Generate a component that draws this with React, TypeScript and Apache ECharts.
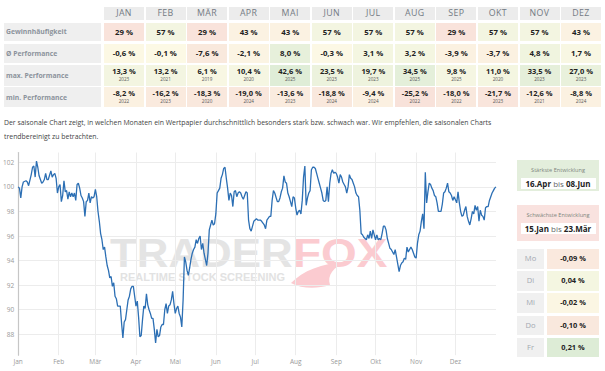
import React, { useEffect, useRef } from "react";
import * as echarts from "echarts";

const months = ["JAN", "FEB", "MÄR", "APR", "MAI", "JUN", "JUL", "AUG", "SEP", "OKT", "NOV", "DEZ"];
const winRate = [29, 57, 29, 43, 43, 57, 57, 57, 29, 57, 57, 43];
const avgPerf = [-0.6, -0.1, -7.6, -2.1, 8.0, -0.3, 3.1, 3.2, -3.9, -3.7, 4.8, 1.7];
const maxPerf = [13.3, 13.2, 6.1, 10.4, 42.6, 23.5, 19.7, 34.5, 9.8, 11.0, 33.5, 27.0];
const maxYear = [2023, 2021, 2019, 2020, 2025, 2023, 2023, 2025, 2025, 2020, 2023, 2023];
const minPerf = [-8.2, -16.2, -18.3, -19.0, -13.6, -18.8, -9.4, -25.2, -18.0, -21.7, -12.6, -8.8];
const minYear = [2022, 2023, 2020, 2024, 2023, 2024, 2024, 2022, 2022, 2023, 2021, 2024];
const rowLabels = ["Gewinnhäufigkeit", "Ø Performance", "max. Performance", "min. Performance"];
const weekdays = ["Mo", "Di", "Mi", "Do", "Fr"];
const weekdayPerf = [-0.09, 0.04, -0.02, -0.1, 0.21];
const strongest = { title: "Stärkste Entwicklung", from: "16.Apr", to: "08.Jun" };
const weakest = { title: "Schwächste Entwicklung", from: "15.Jan", to: "23.Mär" };
const description =
  "Der saisonale Chart zeigt, in welchen Monaten ein Wertpapier durchschnittlich besonders stark bzw. schwach war. Wir empfehlen, die saisonalen Charts trendbereinigt zu betrachten.";

const axisMonths = ["Jan", "Feb", "Mär", "Apr", "Mai", "Jun", "Jul", "Aug", "Sep", "Okt", "Nov", "Dez"];
const monthStartDays = [0, 31, 59, 90, 120, 151, 181, 212, 243, 273, 304, 334];
const yTicks = [88, 90, 92, 94, 96, 98, 100, 102];

// [day of year, seasonal index]
const seasonal: [number, number][] = [
  [0, 100.0], [1, 99.9], [2, 99.1], [3, 100.0], [4, 100.4], [6, 100.5], [7, 100.4], [8, 100.1], [10, 101.0], [11, 101.6],
  [12, 101.7], [13, 100.8], [14, 102.1], [15, 101.6], [16, 100.9], [18, 100.3], [19, 100.4], [20, 100.6], [21, 101.1], [22, 100.6],
  [23, 100.6], [25, 101.3], [26, 100.8], [27, 101.0], [28, 101.1], [29, 100.7], [30, 99.5], [31, 100.0], [32, 100.2], [33, 98.8],
  [34, 99.3], [35, 100.5], [36, 99.6], [37, 99.7], [38, 99.0], [39, 99.6], [40, 99.2], [41, 99.5], [42, 99.2], [43, 99.5],
  [44, 98.9], [45, 100.2], [46, 100.3], [47, 99.9], [48, 99.3], [49, 99.1], [50, 98.8], [51, 97.6], [52, 98.8], [53, 98.9],
  [54, 99.5], [55, 98.7], [56, 99.2], [57, 99.1], [58, 99.2], [59, 99.8], [60, 99.2], [61, 98.0], [62, 97.2], [63, 96.2],
  [64, 95.7], [65, 94.9], [66, 95.1], [67, 94.3], [68, 93.6], [69, 93.2], [70, 92.6], [71, 92.7], [72, 91.9], [73, 92.2],
  [74, 91.1], [75, 90.9], [76, 90.3], [77, 90.3], [78, 90.3], [79, 88.9], [80, 87.7], [81, 89.0], [82, 89.2], [83, 90.0],
  [84, 90.8], [85, 91.1], [86, 91.7], [87, 91.9], [88, 91.9], [89, 91.1], [90, 90.3], [91, 90.7], [92, 89.4], [93, 87.8],
  [94, 87.9], [95, 89.2], [96, 90.3], [97, 90.1], [98, 91.3], [99, 90.4], [100, 90.0], [101, 89.7], [102, 89.3], [103, 89.3],
  [104, 88.4], [105, 87.3], [106, 88.4], [107, 87.8], [108, 87.9], [109, 88.6], [110, 88.8], [111, 88.8], [112, 90.0], [113, 90.5],
  [114, 89.7], [115, 90.3], [116, 90.4], [117, 90.8], [118, 91.5], [119, 90.5], [120, 89.7], [121, 90.1], [122, 90.3], [123, 89.7],
  [124, 89.4], [125, 88.6], [126, 90.8], [127, 94.3], [128, 93.9], [129, 93.2], [130, 92.8], [131, 93.4], [132, 94.1], [133, 94.6],
  [134, 94.9], [135, 95.1], [136, 95.7], [137, 95.4], [138, 95.8], [139, 96.0], [140, 94.9], [141, 95.4], [142, 94.6], [143, 94.1],
  [144, 93.6], [145, 94.6], [146, 96.5], [147, 96.9], [148, 97.3], [149, 96.9], [150, 97.0], [151, 97.8], [152, 99.5], [153, 99.7],
  [154, 99.9], [155, 100.7], [156, 101.0], [157, 101.5], [158, 101.6], [159, 100.7], [160, 99.9], [161, 98.9], [162, 99.5], [163, 99.3],
  [164, 98.4], [165, 99.6], [166, 99.7], [167, 99.2], [168, 99.5], [169, 99.6], [170, 99.5], [171, 99.2], [172, 99.0], [173, 99.3],
  [174, 99.6], [175, 99.5], [176, 97.3], [177, 96.6], [178, 96.4], [180, 97.2], [182, 97.4], [183, 97.3], [185, 97.3], [186, 97.2],
  [188, 96.9], [189, 96.6], [190, 97.3], [192, 97.6], [193, 97.6], [194, 98.9], [195, 99.7], [196, 99.5], [198, 98.8], [199, 98.8],
  [200, 99.1], [201, 99.6], [202, 99.9], [203, 100.9], [204, 100.4], [205, 100.3], [206, 99.5], [207, 99.2], [208, 98.8], [209, 98.4],
  [210, 99.2], [211, 99.1], [212, 98.3], [213, 97.7], [214, 98.0], [215, 98.1], [216, 97.8], [217, 98.9], [218, 100.8], [219, 101.7],
  [220, 98.5], [221, 99.1], [222, 99.5], [223, 99.7], [224, 101.4], [225, 101.6], [226, 101.6], [227, 101.5], [228, 101.1], [229, 100.7],
  [230, 100.3], [231, 99.9], [232, 99.5], [233, 98.9], [234, 98.8], [235, 98.9], [236, 100.0], [237, 98.8], [238, 100.3], [239, 101.1],
  [240, 101.4], [241, 101.1], [242, 101.2], [243, 101.1], [244, 100.8], [245, 100.3], [246, 101.0], [247, 100.8], [248, 100.4], [249, 100.2],
  [250, 100.0], [251, 99.5], [252, 100.0], [253, 101.0], [254, 100.7], [255, 100.6], [256, 100.3], [257, 100.0], [258, 99.5], [259, 99.3],
  [260, 99.2], [261, 98.1], [262, 96.2], [263, 96.1], [264, 95.9], [265, 95.8], [266, 95.7], [267, 96.1], [268, 95.8], [269, 96.4],
  [270, 95.8], [271, 96.5], [272, 96.1], [273, 95.7], [274, 96.1], [275, 95.7], [276, 95.8], [277, 95.7], [278, 96.2], [279, 96.8],
  [280, 96.8], [281, 96.5], [282, 95.8], [283, 95.4], [284, 95.0], [285, 94.9], [286, 94.7], [287, 94.5], [288, 94.9], [289, 94.3],
  [291, 93.1], [292, 93.6], [293, 93.8], [294, 93.9], [295, 94.2], [296, 94.1], [297, 95.1], [298, 94.7], [299, 94.9], [300, 95.1],
  [301, 94.9], [302, 94.6], [303, 94.3], [304, 94.2], [305, 95.4], [306, 96.1], [307, 96.4], [308, 97.2], [309, 97.8], [310, 96.6],
  [311, 101.2], [312, 98.7], [313, 99.6], [314, 100.3], [315, 100.2], [316, 99.9], [317, 99.7], [318, 99.3], [319, 99.2], [320, 98.7],
  [321, 98.0], [322, 98.0], [323, 98.0], [324, 98.6], [325, 99.5], [326, 99.6], [327, 99.9], [328, 100.3], [329, 99.6], [330, 99.5],
  [331, 99.3], [332, 98.9], [333, 99.2], [335, 98.7], [336, 99.6], [337, 98.7], [338, 98.0], [339, 97.6], [340, 97.7], [341, 98.1],
  [342, 98.4], [343, 97.6], [344, 97.2], [345, 96.9], [346, 97.4], [347, 98.0], [348, 97.8], [349, 98.5], [350, 98.1], [351, 98.4],
  [352, 97.2], [353, 98.1], [354, 97.7], [355, 97.6], [356, 97.3], [357, 98.3], [358, 98.4], [359, 98.4], [360, 98.9], [361, 99.2],
  [362, 99.5], [363, 99.7], [364, 99.9], [365, 100.0],
];

const FONT = "'Open Sans', 'Noto Sans', sans-serif";

function mix(a: number[], b: number[], t: number) {
  return `rgb(${a.map((x, i) => Math.round(x + (b[i] - x) * t)).join(",")})`;
}
const NEUTRAL = [252, 249, 229];
const POS = [221, 236, 214];
const NEG = [248, 223, 217];
function heat(t: number) {
  const c = Math.max(-1, Math.min(1, t));
  return c >= 0 ? mix(NEUTRAL, POS, c) : mix(NEUTRAL, NEG, -c);
}
const fmt = (v: number, d: number) => v.toFixed(d).replace(".", ",") + " %";

const COL_X0 = 104;
const COL_STEP = 41.55;
const COL_W = 40;

function abs(left: number, top: number, width: number, height: number): React.CSSProperties {
  return { position: "absolute", left, top, width, height, boxSizing: "border-box" };
}

function Chart() {
  const ref = useRef<HTMLDivElement>(null);
  useEffect(() => {
    if (!ref.current) return;
    const tail = echarts.graphic.extendPath(
      "M0,21 C12,9 30,1 56,0 C42,5 36,13 39,23 C26,27 11,27 0,21 Z",
      {}
    );
    echarts.graphic.registerShape("foxtail", tail as any);
    const chart = echarts.init(ref.current, undefined, { renderer: "svg" });
    chart.setOption({
      animation: false,
      grid: { left: 16, right: 109, top: 152.5, bottom: 15.8 },
      graphic: [
        {
          type: "text",
          x: 110,
          y: 252.5,
          scaleX: 1.07,
          z: -10,
          silent: true,
          style: { text: "TRADER", fill: "#e4e4e4", font: `900 41px 'Liberation Sans', Arial, sans-serif`, verticalAlign: "middle" },
        },
        {
          type: "text",
          x: 293,
          y: 252.5,
          scaleX: 1.12,
          z: -10,
          silent: true,
          style: { text: "FOX", fill: "#fbcbd0", font: `900 41px 'Liberation Sans', Arial, sans-serif`, verticalAlign: "middle" },
        },
        {
          type: "text",
          x: 120,
          y: 277.5,
          scaleX: 1.1,
          z: -10,
          silent: true,
          style: { text: "REALTIME STOCK SCREENING", fill: "#e2e2e2", font: `bold 10px 'Liberation Sans', Arial, sans-serif`, verticalAlign: "middle" },
        },
        {
          type: "foxtail",
          x: 291,
          y: 262,
          z: -10,
          silent: true,
          style: { fill: "#fbcbd0" },
        },
      ],
      xAxis: {
        type: "value",
        min: 0,
        max: 365,
        axisLine: { show: false },
        axisTick: { show: false, customValues: monthStartDays },
        axisLabel: {
          customValues: monthStartDays,
          formatter: (v: number) => axisMonths[monthStartDays.indexOf(v)] ?? "",
          color: "#999",
          fontSize: 6.5,
          fontFamily: FONT,
          margin: 3,
        },
        splitLine: { show: true, lineStyle: { color: "#ececec", width: 1 } },
      },
      yAxis: {
        type: "value",
        min: 86.3,
        max: 102.8,
        axisLine: { show: true, lineStyle: { color: "#c6c6c6", width: 1.2 } },
        axisTick: { show: false, customValues: yTicks },
        axisLabel: { customValues: yTicks, color: "#999", fontSize: 6.5, fontFamily: FONT, margin: 4 },
        splitLine: { show: true, lineStyle: { color: "#ececec", width: 1 } },
      },
      series: [
        {
          type: "line",
          data: seasonal,
          showSymbol: false,
          symbol: "none",
          lineStyle: { color: "#2c6fb4", width: 1.3 },
          z: 5,
        },
      ],
    });
    return () => chart.dispose();
  }, []);
  return <div ref={ref} style={{ position: "absolute", left: 0, top: 0, width: 605, height: 371 }} />;
}

function Table() {
  const labelStyle = (top: number, h: number): React.CSSProperties => ({
    ...abs(4, top, 97, h),
    background: "#efefef",
    color: "#8c939c",
    fontWeight: 700,
    fontSize: 6.8,
    display: "flex",
    alignItems: "center",
    paddingLeft: 2,
  });
  const rows = [
    { top: 22.7, h: 18, vals: winRate.map((v) => `${v} %`), bg: winRate.map((v) => heat((v - 50) / 25)) },
    { top: 44, h: 18.7, vals: avgPerf.map((v) => fmt(v, 1)), bg: avgPerf.map((v) => heat(v / 12)) },
  ];
  return (
    <>
      {months.map((m, i) => (
        <div
          key={m}
          style={{
            ...abs(COL_X0 + i * COL_STEP, 7, COL_W, 13),
            background: "#ececec",
            color: "#737a83",
            fontSize: 8.8,
            textAlign: "center",
            lineHeight: "13px",
            letterSpacing: 0.4,
          }}
        >
          {m}
        </div>
      ))}
      {rows.map((r, ri) => (
        <React.Fragment key={ri}>
          <div style={labelStyle(r.top, r.h)}>{rowLabels[ri]}</div>
          {r.vals.map((v, i) => (
            <div
              key={i}
              style={{
                ...abs(COL_X0 + i * COL_STEP, r.top, COL_W, r.h),
                background: r.bg[i],
                color: "#222",
                fontWeight: 700,
                fontSize: 7.8,
                textAlign: "center",
                lineHeight: `${r.h}px`,
              }}
            >
              {v}
            </div>
          ))}
        </React.Fragment>
      ))}
      {[
        { top: 65, h: 21, vals: maxPerf, years: maxYear, scale: 45, label: rowLabels[2] },
        { top: 87.3, h: 20, vals: minPerf, years: minYear, scale: 28, label: rowLabels[3] },
      ].map((r, ri) => (
        <React.Fragment key={"m" + ri}>
          <div style={labelStyle(r.top, r.h)}>{r.label}</div>
          {r.vals.map((v, i) => (
            <div
              key={i}
              style={{
                ...abs(COL_X0 + i * COL_STEP, r.top, COL_W, r.h),
                background: heat(v / r.scale),
                textAlign: "center",
              }}
            >
              <div style={{ position: "absolute", left: 0, right: 0, top: 1.5, fontSize: 7.5, fontWeight: 700, color: "#222", lineHeight: "9px" }}>
                {fmt(v, 1)}
              </div>
              <div style={{ position: "absolute", left: 0, right: 0, top: 11, fontSize: 4.6, color: "#555", lineHeight: "7px" }}>
                {r.years[i]}
              </div>
            </div>
          ))}
        </React.Fragment>
      ))}
    </>
  );
}

function RangeBox(props: { top: number; h: number; bg: string; title: string; from: string; to: string; innerTop: number }) {
  return (
    <div style={{ ...abs(517, props.top, 82, props.h), background: props.bg }}>
      <div style={{ position: "absolute", left: 0, right: 0, top: 7, textAlign: "center", fontSize: 5.6, color: "#7d857d", lineHeight: "7px" }}>
        {props.title}
      </div>
      <div
        style={{
          ...abs(3.5, props.innerTop, 75, 11),
          background: "#fff",
          textAlign: "center",
          fontSize: 8,
          lineHeight: "11px",
          color: "#222",
          whiteSpace: "nowrap",
        }}
      >
        <b>{props.from}</b> <span style={{ color: "#666" }}>bis</span> <b>{props.to}</b>
      </div>
    </div>
  );
}

function SidePanel() {
  return (
    <>
      <RangeBox top={160} h={31} bg="#e3eedc" title={strongest.title} from={strongest.from} to={strongest.to} innerTop={17.5} />
      <RangeBox top={205} h={36} bg="#f9e2df" title={weakest.title} from={weakest.from} to={weakest.to} innerTop={17.5} />
      {weekdays.map((d, i) => {
        const top = 249 + i * 22.2;
        return (
          <React.Fragment key={d}>
            <div
              style={{
                ...abs(517, top, 27, 19.5),
                background: "#f0f0f0",
                color: "#a3a9b0",
                fontSize: 7.6,
                textAlign: "center",
                lineHeight: "19.5px",
              }}
            >
              {d}
            </div>
            <div
              style={{
                ...abs(547, top, 52, 19.5),
                background: heat(weekdayPerf[i] / 0.15),
                color: "#222",
                fontWeight: 700,
                fontSize: 7.4,
                textAlign: "center",
                lineHeight: "19.5px",
              }}
            >
              {fmt(weekdayPerf[i], 2)}
            </div>
          </React.Fragment>
        );
      })}
    </>
  );
}

export default function App() {
  return (
    <div
      style={{
        position: "fixed",
        left: 0,
        top: 0,
        width: 605,
        height: 371,
        overflow: "hidden",
        background: "#fff",
        fontFamily: FONT,
      }}
    >
      <Chart />
      <Table />
      <div style={{ position: "absolute", left: 4, top: 116, width: 520, fontSize: 6.9, lineHeight: "13.5px", color: "#444" }}>
        {description}
      </div>
      <SidePanel />
    </div>
  );
}
